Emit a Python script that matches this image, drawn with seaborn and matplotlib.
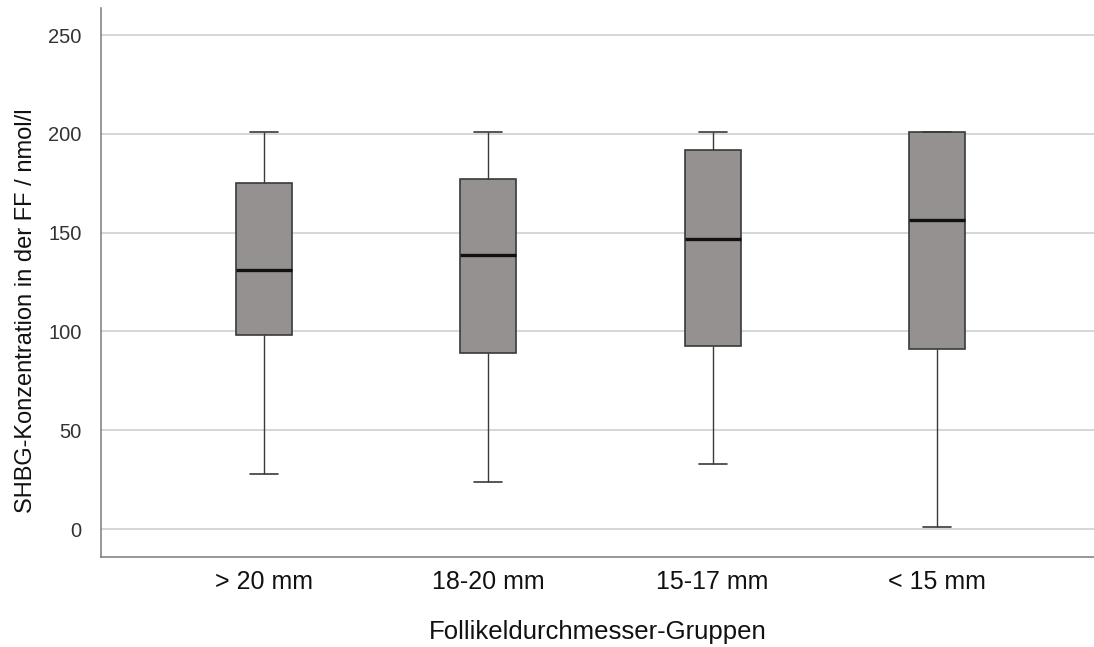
import matplotlib
matplotlib.use("Agg")
import matplotlib.pyplot as plt
import pandas as pd
import seaborn as sns

# Five-number summary per follicle-diameter group (SHBG, nmol/l)
groups = ["> 20 mm", "18-20 mm", "15-17 mm", "< 15 mm"]
minimum = [27.8, 23.7, 32.8, 0.8]
q1 = [98.0, 89.0, 92.4, 91.2]
median = [131.1, 138.5, 146.6, 156.4]
q3 = [175.3, 177.1, 191.7, 201.0]
maximum = [201.0, 201.0, 201.0, 201.0]
y_ticks = [0, 50, 100, 150, 200, 250]

# With five values per group, linear percentiles land exactly on q1/median/q3
rows = []
for g, a, b, c, d, e in zip(groups, minimum, q1, median, q3, maximum):
    for v in (a, b, c, d, e):
        rows.append({"Gruppe": g, "SHBG": v})
df = pd.DataFrame(rows)

sns.set_theme(style="white")
plt.rcParams["font.family"] = ["Liberation Sans", "DejaVu Sans"]

fig = plt.figure(figsize=(10.94, 6.47), dpi=100)
ax = fig.add_axes([0.0923, 0.139, 0.9077, 0.8486])

sns.boxplot(
    data=df, x="Gruppe", y="SHBG", order=groups,
    whis=(0, 100), width=0.25, color="#959190", saturation=1,
    linecolor="#3a3a3a", linewidth=1.2, showfliers=False,
    medianprops=dict(color="#111111", linewidth=2.4),
    whiskerprops=dict(linewidth=1.0),
    ax=ax,
)

ax.set_xlim(-0.727, 3.70)
ax.set_ylim(-14.2, 263.7)
ax.set_yticks(y_ticks)
ax.yaxis.grid(True, color="#d0d0d0", linewidth=1.2)
ax.xaxis.grid(False)
ax.set_axisbelow(True)

for side in ("top", "right"):
    ax.spines[side].set_visible(False)
for side in ("left", "bottom"):
    ax.spines[side].set_color("#7a7a7a")
    ax.spines[side].set_linewidth(1.1)

ax.tick_params(axis="y", length=0, pad=14, labelsize=14.5, labelcolor="#333333")
ax.tick_params(axis="x", length=0, pad=9, labelsize=18, labelcolor="#111111")

ax.set_xlabel("Follikeldurchmesser-Gruppen", fontsize=18.5, color="#111111")
ax.xaxis.set_label_coords(0.5, -0.114)
ax.set_ylabel("SHBG-Konzentration in der FF / nmol/l", fontsize=17, color="#111111")
ax.yaxis.set_label_coords(-0.0645, 0.448)

fig.savefig("out.png", dpi=100, facecolor="white")
